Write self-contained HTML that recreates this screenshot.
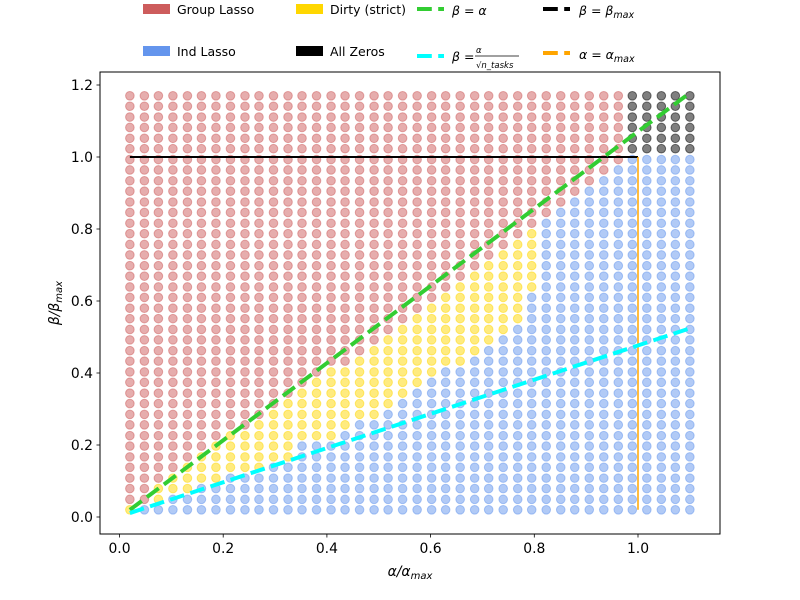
<!DOCTYPE html>
<html><head><meta charset="utf-8"><style>
html,body{margin:0;padding:0;background:#fff;}
svg{display:block;font-family:"DejaVu Sans","Liberation Sans",sans-serif;}
</style></head><body>
<svg id="chart" width="800" height="600" viewBox="0 0 800 600" xmlns="http://www.w3.org/2000/svg">
<rect width="800" height="600" fill="#fff"/>
<g id="dots"></g>
<g id="lines"></g>
<rect x="100" y="72" width="620" height="462" fill="none" stroke="#000" stroke-width="1"/>
<g id="ticks" font-size="13.9" fill="#000"></g>
<text x="410" y="576" text-anchor="middle" font-size="13.9" font-style="italic">α/α<tspan font-size="10" dy="3">max</tspan></text>
<text transform="translate(59,303) rotate(-90)" text-anchor="middle" font-size="13.9" font-style="italic">β/β<tspan font-size="10" dy="3">max</tspan></text>
<g font-size="12.5">
  <g>
    <rect x="143" y="4" width="27" height="10" fill="#cd5c5c"/><text x="177" y="14">Group Lasso</text></g>
  <g>
    <rect x="296" y="4" width="27" height="10" fill="#ffd700"/><text x="330" y="14">Dirty (strict)</text></g>
  <g>
    <line x1="417" y1="9" x2="444" y2="9" stroke="#32cd32" stroke-width="4" stroke-dasharray="14.8 6.4"/>
    <text x="452" y="15" font-style="italic">β = α</text></g>
  <g>
    <line x1="543" y1="9" x2="570" y2="9" stroke="#000" stroke-width="4" stroke-dasharray="14.8 6.4"/>
    <text x="579" y="15" font-style="italic">β = β<tspan font-size="9.5" dy="3">max</tspan></text></g>
  <g>
    <rect x="143" y="46" width="27" height="10" fill="#6495ed"/><text x="177" y="56">Ind Lasso</text></g>
  <g>
    <rect x="296" y="46" width="27" height="10" fill="#000"/><text x="330" y="56">All Zeros</text></g>
  <g>
    <line x1="417" y1="56" x2="444" y2="56" stroke="#00ffff" stroke-width="4" stroke-dasharray="14.8 6.4"/>
    <text x="452" y="61" font-style="italic">β =</text>
    <text x="476" y="53" font-size="8.5" font-style="italic">α</text>
    <line x1="475" y1="56" x2="519" y2="56" stroke="#000" stroke-width="0.8"/>
    <text x="476" y="68" font-size="8.5" font-style="italic">√n_tasks</text></g>
  <g>
    <line x1="543" y1="53" x2="570" y2="53" stroke="#ffa500" stroke-width="4" stroke-dasharray="14.8 6.4"/>
    <text x="579" y="59" font-style="italic">α = α<tspan font-size="9.5" dy="3">max</tspan></text></g>
</g>
</svg>
<script>
const alphas=[0.020,0.048,0.075,0.103,0.131,0.158,0.186,0.214,0.242,0.269,0.297,0.325,0.352,0.380,0.408,0.435,0.463,0.491,0.518,0.546,0.574,0.602,0.629,0.657,0.685,0.712,0.740,0.768,0.795,0.823,0.851,0.878,0.906,0.934,0.962,0.989,1.017,1.045,1.072,1.100];
const betas=[0.020,0.049,0.079,0.108,0.138,0.167,0.197,0.226,0.256,0.285,0.315,0.344,0.374,0.403,0.433,0.462,0.492,0.521,0.551,0.580,0.610,0.639,0.669,0.698,0.728,0.757,0.787,0.816,0.846,0.875,0.905,0.934,0.964,0.993,1.023,1.052,1.082,1.111,1.141,1.170];
// per column: number of rows (from bottom) that are Ind Lasso; row index where Group Lasso starts; row index where All Zeros starts
const indLassoRows=[0,1,1,2,2,3,3,4,4,4,5,5,7,7,7,8,9,9,10,11,12,13,14,14,15,16,17,18,21,28,29,30,31,32,33,34,34,34,34,34];
const groupStartRow=[1,1,3,4,5,6,7,8,8,9,10,11,12,13,14,14,15,16,17,18,19,20,21,22,23,24,25,26,27,28,29,30,31,32,33,34,34,34,34,34];
const zeroStartRow=[40,40,40,40,40,40,40,40,40,40,40,40,40,40,40,40,40,40,40,40,40,40,40,40,40,40,40,40,40,40,40,40,40,40,40,34,34,34,34,34];
const greenX=[0.02,1.1], greenY=[0.02,1.178];
const cyanX=[0.02,1.1], cyanY=[0.011,0.524];
const betaMaxLine=[0.02,1.0], alphaMaxLine=[0.02,1.0];
const xTicks=[0.0,0.2,0.4,0.6,0.8,1.0];
const xTickLabels=["0.0","0.2","0.4","0.6","0.8","1.0"];
const yTicks=[0.0,0.2,0.4,0.6,0.8,1.0,1.2];
const yTickLabels=["0.0","0.2","0.4","0.6","0.8","1.0","1.2"];

const NS="http://www.w3.org/2000/svg";
const xS=v=>119.5+v*518.5;
const yS=v=>517-v*360;
function mk(tag,attrs,parent){const e=document.createElementNS(NS,tag);for(const k in attrs)e.setAttribute(k,attrs[k]);parent.appendChild(e);return e;}
const colors={ind:"#6495ed",dirty:"#ffd700",group:"#cd5c5c",zero:"#000000"};
const dots=document.getElementById('dots');
alphas.forEach((a,i)=>{betas.forEach((b,j)=>{
  let c;
  if(j<indLassoRows[i])c='ind';else if(j<groupStartRow[i])c='dirty';else if(j>=zeroStartRow[i])c='zero';else c='group';
  const el=mk('circle',{cx:xS(a),cy:yS(b),r:4.3,fill:colors[c],'fill-opacity':0.5,stroke:colors[c],'stroke-opacity':0.5,'stroke-width':1},dots);
  
  
});});
const lines=document.getElementById('lines');
let l=mk('line',{x1:xS(betaMaxLine[0]),x2:xS(betaMaxLine[1]),y1:yS(1),y2:yS(1),stroke:'#000','stroke-width':2},lines);


l=mk('line',{x1:xS(1),x2:xS(1),y1:yS(alphaMaxLine[0]),y2:yS(alphaMaxLine[1]),stroke:'#ffa500','stroke-width':1.5},lines);


l=mk('line',{x1:xS(greenX[0]),x2:xS(greenX[1]),y1:yS(greenY[0]),y2:yS(greenY[1]),stroke:'#32cd32','stroke-width':4,'stroke-dasharray':'14.8 6.4'},lines);


l=mk('line',{x1:xS(cyanX[0]),x2:xS(cyanX[1]),y1:yS(cyanY[0]),y2:yS(cyanY[1]),stroke:'#00ffff','stroke-width':4,'stroke-dasharray':'14.8 6.4'},lines);


const ticks=document.getElementById('ticks');
xTicks.forEach((v,k)=>{
  const t=mk('line',{x1:xS(v),x2:xS(v),y1:534,y2:537.5,stroke:'#000','stroke-width':0.8},ticks);
  
  
  const tx=mk('text',{x:xS(v),y:553,'text-anchor':'middle'},ticks);tx.textContent=xTickLabels[k];
  
  
});
yTicks.forEach((v,k)=>{
  const t=mk('line',{x1:96.5,x2:100,y1:yS(v),y2:yS(v),stroke:'#000','stroke-width':0.8},ticks);
  
  
  const tx=mk('text',{x:93,y:yS(v)+5,'text-anchor':'end'},ticks);tx.textContent=yTickLabels[k];
  
  
});
</script>
</body></html>
